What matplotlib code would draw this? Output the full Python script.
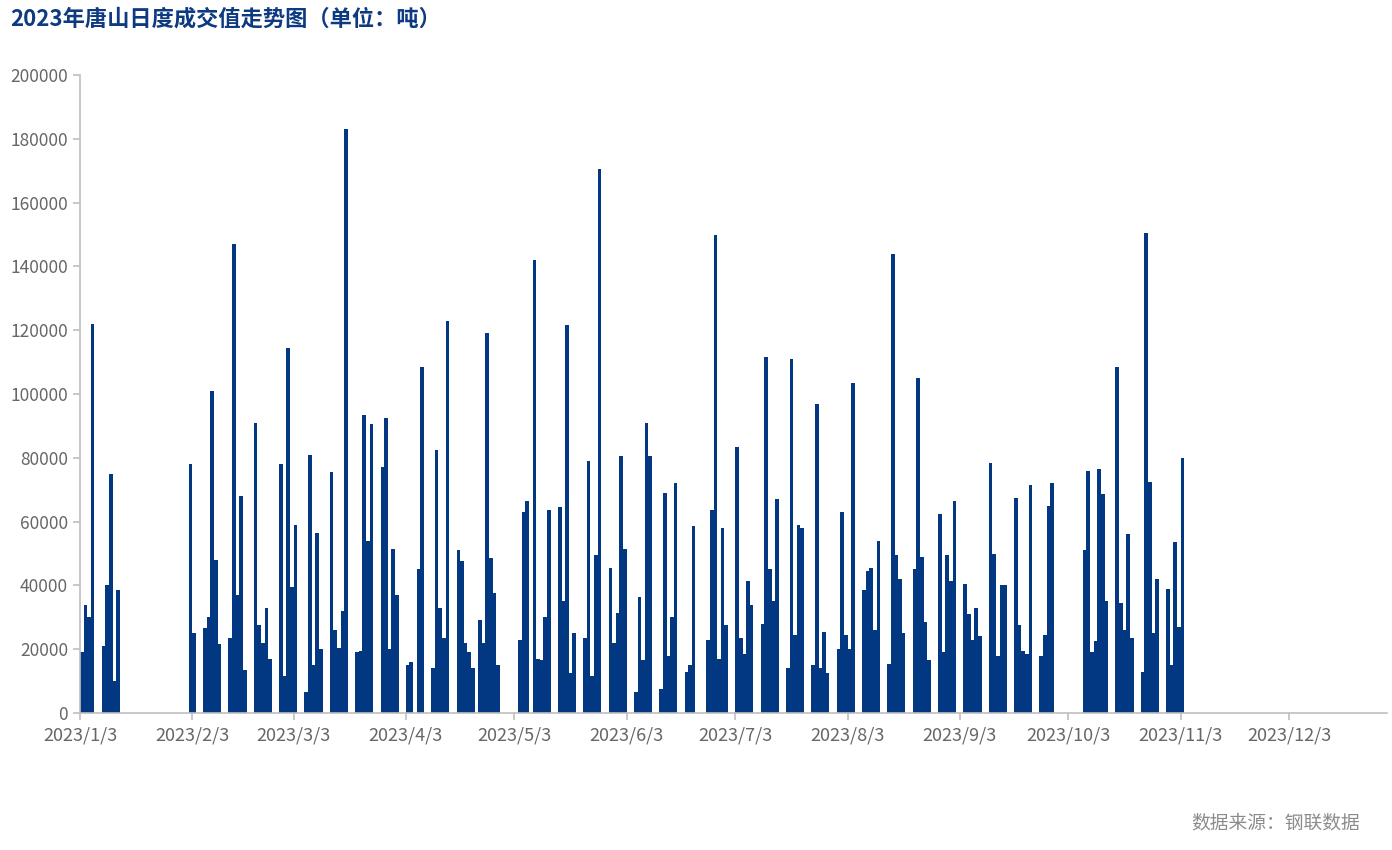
import numpy as np
import pandas as pd
import matplotlib
matplotlib.use("Agg")
import matplotlib.pyplot as plt

plt.rcParams['font.family'] = ['Noto Sans CJK SC', 'DejaVu Sans']

# ------------------------------------------------------------------
# Trading calendar: weekdays, minus the days without data,
# plus the weekend make-up working days
# ------------------------------------------------------------------
start_day = '2023-01-03'
end_day = '2023-11-03'
no_data = [('2023-01-16', '2023-02-01'),
           ('2023-04-05', '2023-04-05'),
           ('2023-04-29', '2023-05-03'),
           ('2023-06-22', '2023-06-24'),
           ('2023-09-29', '2023-10-06')]
makeup_days = ['2023-04-23', '2023-05-06', '2023-06-25', '2023-10-07', '2023-10-08']

# daily deal volume (tons), in trading-day order
values = [
    19000, 34000, 30000, 122000,                 # 1/3-1/6
    21000, 40000, 75000, 10000, 38500,           # 1/9-1/13
    78000, 25000,                                # 2/2-2/3
    26500, 30000, 101000, 48000, 21500,
    23500, 147000, 37000, 68000, 13500,
    91000, 27500, 22000, 33000, 17000,
    78000, 11500, 114500, 39500, 59000,          # 2/27-3/3
    6500, 81000, 15000, 56500, 20000,
    75500, 26000, 20500, 32000, 183000,
    19000, 19500, 93500, 54000, 90500,
    77000, 92500, 20000, 51500, 37000,
    15000, 16000, 45000, 108500,                 # 4/3-4/7
    14000, 82500, 33000, 23500, 123000,
    51000, 47500, 22000, 19000, 14000,
    29000, 22000, 119000, 48500, 37500, 15000,   # 4/23-4/28
    23000, 63000, 66500,                         # 5/4-5/6
    142000, 17000, 16500, 30000, 63500,
    64500, 35000, 121500, 12500, 25000,
    23500, 79000, 11500, 49500, 170500,
    45500, 22000, 31500, 80500, 51500,           # 5/29-6/2
    6500, 36500, 16500, 91000, 80500,
    7500, 69000, 18000, 30000, 72000,
    13000, 15000, 58500,                         # 6/19-6/21
    23000, 63500, 150000, 17000, 58000, 27500,   # 6/25-6/30
    83500, 23500, 18500, 41500, 34000,
    28000, 111500, 45000, 35000, 67000,
    14000, 111000, 24500, 59000, 58000,
    15000, 97000, 14000, 25500, 12500,
    20000, 63000, 24500, 20000, 103500,          # 7/31-8/4
    38500, 44500, 45500, 26000, 54000,
    15500, 144000, 49500, 42000, 25000,
    45000, 105000, 49000, 28500, 16500,
    62500, 19000, 49500, 41500, 66500,           # 8/28-9/1
    40500, 31000, 23000, 33000, 24000,
    78500, 50000, 18000, 40000, 40000,
    67500, 27500, 19500, 18500, 71500,
    18000, 24500, 65000, 72000,                  # 9/25-9/28
    51000, 76000, 19000, 22500, 76500, 68500, 35000,  # 10/7-10/13
    108500, 34500, 26000, 56000, 23500,
    13000, 150500, 72500, 25000, 42000,
    39000, 15000, 53500, 27000, 80000,           # 10/30-11/3
]

days = pd.bdate_range(start_day, end_day)
for a, b in no_data:
    days = days[(days < a) | (days > b)]
days = days.union(pd.to_datetime(makeup_days)).sort_values()

# x ticks on the 3rd of every month
tick_days = pd.date_range('2023-01-01', '2023-12-01', freq='MS') + pd.Timedelta(days=2)
tick_labels = [f"{d.year}/{d.month}/{d.day}" for d in tick_days]

bar_color = '#023882'
axis_color = '#BFBFBF'
label_color = '#666666'

fig = plt.figure(figsize=(13.92, 8.5), dpi=100)
ax = fig.add_axes([80 / 1392, 1 - 713 / 850, 1307 / 1392, 638 / 850])

ax.bar(days, values, width=1.0, align='edge', color=bar_color,
       linewidth=0, antialiased=False)

ax.set_xlim(pd.Timestamp('2023-01-03'), pd.Timestamp('2023-12-30'))
ax.set_ylim(0, 200000)
ax.set_yticks(np.arange(0, 200001, 20000))
ax.set_xticks(tick_days)
ax.set_xticklabels(tick_labels)

for s in ['top', 'right']:
    ax.spines[s].set_visible(False)
for s in ['left', 'bottom']:
    ax.spines[s].set_color(axis_color)
    ax.spines[s].set_linewidth(1.2)
ax.tick_params(axis='both', colors=axis_color, labelcolor=label_color,
               length=5, width=1.2)
ax.tick_params(axis='y', labelsize=12.5)
ax.tick_params(axis='x', labelsize=13, pad=5)

fig.text(10 / 1392, 1 - 19 / 850, '2023年唐山日度成交值走势图（单位：吨）',
         fontsize=16, fontweight='bold', color='#0D3A80', va='center', ha='left')
fig.text(1360 / 1392, 1 - 823 / 850, '数据来源：钢联数据',
         fontsize=13.5, color='#8C8C8C', va='center', ha='right')

fig.savefig('out.png', dpi=100)
